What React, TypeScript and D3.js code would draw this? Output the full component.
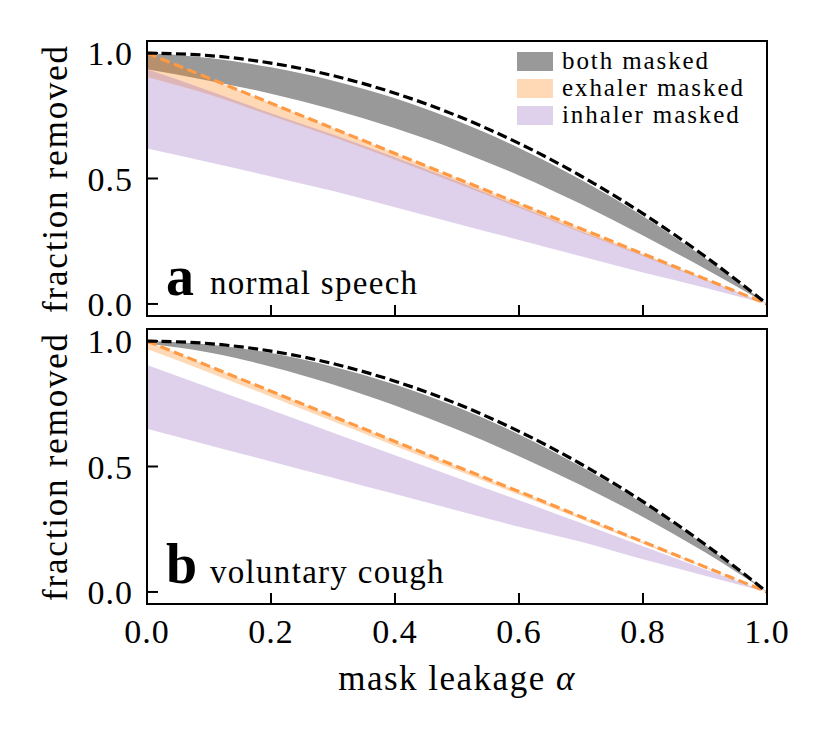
import React from 'react';
import * as d3 from 'd3';

// ---------- data ----------
const alphaValues = [0, 0.1, 0.2, 0.3, 0.4, 0.5, 0.6, 0.7, 0.8, 0.9, 1.0];

// dashed reference curves (same in both panels)
const bothMaskedLimit = [1.0, 0.99, 0.96, 0.91, 0.84, 0.75, 0.64, 0.51, 0.36, 0.19, 0.0];
const exhalerMaskedLimit = [1.0, 0.9, 0.8, 0.7, 0.6, 0.5, 0.4, 0.3, 0.2, 0.1, 0.0];

// panel a: normal speech
const speechBothUpper = [1.0, 0.98, 0.943, 0.89, 0.82, 0.73, 0.622, 0.495, 0.35, 0.183, 0.0];
const speechBothLower = [0.935, 0.89, 0.838, 0.775, 0.7, 0.613, 0.512, 0.398, 0.273, 0.14, 0.0];
const speechExhalerUpper = [1.0, 0.9, 0.8, 0.7, 0.6, 0.5, 0.4, 0.3, 0.2, 0.1, 0.0];
const speechExhalerLower = [0.905, 0.835, 0.75, 0.665, 0.575, 0.48, 0.383, 0.285, 0.19, 0.094, 0.0];
const speechInhalerUpper = [0.935, 0.85, 0.76, 0.675, 0.585, 0.49, 0.39, 0.29, 0.195, 0.097, 0.0];
const speechInhalerLower = [0.62, 0.565, 0.508, 0.45, 0.385, 0.32, 0.255, 0.19, 0.125, 0.065, 0.0];

// panel b: voluntary cough
const coughBothUpper = [1.0, 0.986, 0.952, 0.898, 0.827, 0.737, 0.628, 0.5, 0.353, 0.187, 0.0];
const coughBothLower = [0.99, 0.954, 0.898, 0.827, 0.743, 0.647, 0.541, 0.425, 0.299, 0.158, 0.0];
const coughExhalerUpper = [1.0, 0.9, 0.8, 0.7, 0.6, 0.5, 0.4, 0.3, 0.2, 0.1, 0.0];
const coughExhalerLower = [0.968, 0.875, 0.778, 0.68, 0.582, 0.485, 0.387, 0.29, 0.192, 0.096, 0.0];
const coughInhalerUpper = [0.905, 0.815, 0.725, 0.635, 0.545, 0.455, 0.365, 0.275, 0.182, 0.09, 0.0];
const coughInhalerLower = [0.65, 0.585, 0.52, 0.455, 0.39, 0.325, 0.26, 0.2, 0.13, 0.065, 0.0];

const xTicks = [0, 0.2, 0.4, 0.6, 0.8, 1.0];
const yTicks = [0, 0.5, 1.0];
const legendLabels = ['both masked', 'exhaler masked', 'inhaler masked'];
const panelLetters = ['a', 'b'];
const panelTitles = ['normal speech', 'voluntary cough'];
const yLabel = 'fraction removed';

// ---------- styling ----------
const FONT = 'Liberation Serif, DejaVu Serif, serif';
const GRAY = '#999999';
const ORANGE = '#ff7f0e';
const PURPLE = '#9467bd';
const ORANGE_LINE = '#ff9a44';

const panels = [
  {
    top: 41, bottom: 316,
    both: [speechBothLower, speechBothUpper],
    exhaler: [speechExhalerLower, speechExhalerUpper],
    inhaler: [speechInhalerLower, speechInhalerUpper],
  },
  {
    top: 329, bottom: 604,
    both: [coughBothLower, coughBothUpper],
    exhaler: [coughExhalerLower, coughExhalerUpper],
    inhaler: [coughInhalerLower, coughInhalerUpper],
  },
];

const LEFT = 147;
const RIGHT = 767;
const txt = { fontFamily: FONT } as React.CSSProperties;

export default function App() {
  const x = d3.scaleLinear().domain([0, 1]).range([LEFT, RIGHT]);

  return (
    <svg
      width={830}
      height={738}
      style={{ position: 'absolute', left: 0, top: 0, background: '#fff', fontFamily: FONT }}
    >
      <rect x={0} y={0} width={830} height={738} fill="#fff" />
      {panels.map((p, pi) => {
        const y = d3.scaleLinear().domain([-0.048, 1.048]).range([p.bottom, p.top]);
        const band = (lower: number[], upper: number[]) =>
          d3
            .area<number>()
            .x((_, i) => x(alphaValues[i]))
            .y0((_, i) => y(lower[i]))
            .y1((_, i) => y(upper[i]))
            .curve(d3.curveMonotoneX)(alphaValues) as string;
        const line = (vals: number[]) =>
          d3
            .line<number>()
            .x((_, i) => x(alphaValues[i]))
            .y((_, i) => y(vals[i]))
            .curve(d3.curveMonotoneX)(alphaValues) as string;
        const clipId = `clip-${pi}`;
        return (
          <g key={pi}>
            <defs>
              <clipPath id={clipId}>
                <rect x={LEFT} y={p.top} width={RIGHT - LEFT} height={p.bottom - p.top} />
              </clipPath>
            </defs>
            <g clipPath={`url(#${clipId})`}>
              <path d={band(p.both[0], p.both[1])} fill={GRAY} />
              <path d={band(p.exhaler[0], p.exhaler[1])} fill={ORANGE} fillOpacity={0.3} />
              <path d={band(p.inhaler[0], p.inhaler[1])} fill={PURPLE} fillOpacity={0.3} />
              <path
                d={line(exhalerMaskedLimit)}
                fill="none"
                stroke={ORANGE_LINE}
                strokeWidth={3.2}
                strokeDasharray="10 4.5"
              />
              <path
                d={line(bothMaskedLimit)}
                fill="none"
                stroke="#000"
                strokeWidth={3.2}
                strokeDasharray="10 4.5"
              />
            </g>
            {/* frame */}
            <rect
              x={LEFT}
              y={p.top}
              width={RIGHT - LEFT}
              height={p.bottom - p.top}
              fill="none"
              stroke="#000"
              strokeWidth={2}
            />
            {/* x ticks */}
            {xTicks.map((t) => (
              <line
                key={`xt${t}`}
                x1={x(t)}
                x2={x(t)}
                y1={p.bottom}
                y2={p.bottom - 11}
                stroke="#000"
                strokeWidth={2}
              />
            ))}
            {/* y ticks */}
            {yTicks.map((t) => (
              <g key={`yt${t}`}>
                <line x1={LEFT} x2={LEFT + 11} y1={y(t)} y2={y(t)} stroke="#000" strokeWidth={2} />
                <text
                  x={133}
                  y={y(t) + 12}
                  textAnchor="end"
                  fontSize={34}
                  letterSpacing={1}
                  style={txt}
                >
                  {t.toFixed(1)}
                </text>
              </g>
            ))}
            {/* y label */}
            <text
              transform={`translate(67,${(p.top + p.bottom) / 2}) rotate(-90)`}
              textAnchor="middle"
              fontSize={35}
              letterSpacing={1.8}
              style={txt}
            >
              {yLabel}
            </text>
            {/* panel annotation */}
            <text x={166} y={pi === 0 ? 295 : 583} fontSize={56} fontWeight="bold" style={txt}>
              {panelLetters[pi]}
            </text>
            <text x={210} y={pi === 0 ? 294 : 583} fontSize={33} letterSpacing={1.3} style={txt}>
              {panelTitles[pi]}
            </text>
            {/* x tick labels on bottom panel */}
            {pi === 1 &&
              xTicks.map((t) => (
                <text
                  key={`xl${t}`}
                  x={x(t)}
                  y={643}
                  textAnchor="middle"
                  fontSize={34}
                  letterSpacing={1}
                  style={txt}
                >
                  {t.toFixed(1)}
                </text>
              ))}
          </g>
        );
      })}
      {/* legend */}
      {legendLabels.map((lab, i) => {
        const fills = [GRAY, ORANGE, PURPLE];
        const ops = [1, 0.3, 0.3];
        const yy = 52 + i * 27;
        return (
          <g key={lab}>
            <rect x={517} y={yy} width={36} height={19} fill={fills[i]} fillOpacity={ops[i]} />
            <text x={562} y={yy + 17} fontSize={25} letterSpacing={1.9} style={txt}>
              {lab}
            </text>
          </g>
        );
      })}
      {/* x label */}
      <text x={457} y={690} textAnchor="middle" fontSize={35} letterSpacing={1.5} style={txt}>
        mask leakage <tspan fontStyle="italic">α</tspan>
      </text>
    </svg>
  );
}
